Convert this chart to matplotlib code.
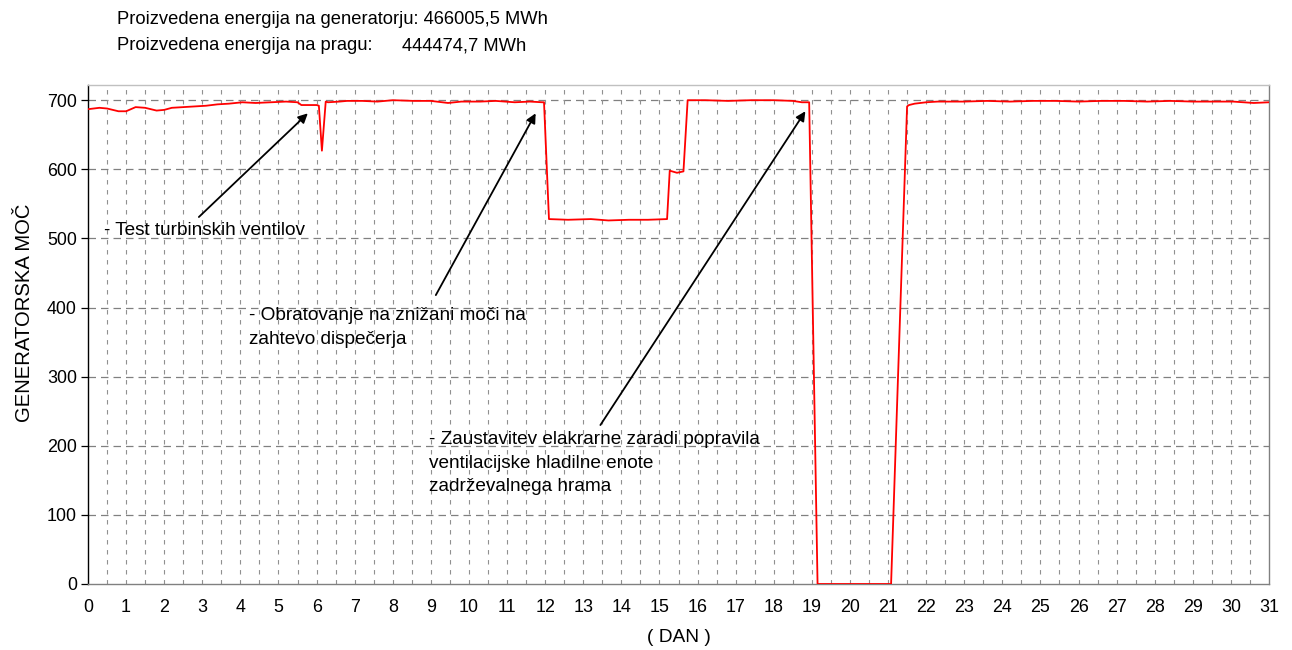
import matplotlib
matplotlib.use("Agg")
import matplotlib.pyplot as plt

plt.rcParams['font.family'] = ['Liberation Sans', 'DejaVu Sans']

# generator power (MW) over the month
dan = [0.0, 0.3, 0.5, 0.8, 1.0, 1.25, 1.5, 1.8, 2.0, 2.2, 2.5, 2.8, 3.1, 3.4, 3.7, 4.05,
       4.4, 4.8, 5.2, 5.5, 5.6, 6.0, 6.06, 6.14, 6.24, 6.3, 6.6, 6.8, 7.2, 7.6, 8.0,
       8.55, 9.0, 9.45, 9.8, 10.3, 10.7, 11.2, 11.6, 11.93, 11.97, 12.1, 12.6,
       13.2, 13.66, 14.2, 14.7, 15.2, 15.27, 15.46, 15.63, 15.74, 16.2, 16.8, 17.4,
       18.0, 18.5, 18.74, 18.93, 19.15, 20.0, 21.08, 21.5, 21.55, 21.7, 22.0, 22.3,
       23.0, 23.6, 24.2, 24.8, 25.4, 26.0, 26.6, 27.2, 27.8, 28.4, 29.0, 29.6,
       30.06, 30.6, 31.0]
moc = [687, 689, 688, 684, 684, 690, 689, 685, 686, 689, 690, 691, 692, 694, 695, 697,
       696, 697, 698, 697, 693, 693, 692, 627, 698, 697, 698, 699, 699, 698, 700,
       699, 699, 696, 698, 698, 699, 697, 698, 697, 697, 528, 527,
       528, 526, 527, 527, 528, 598, 595, 597, 700, 700, 699, 700,
       700, 699, 697, 697, 0, 0, 0, 691, 693, 695, 697, 698,
       698, 699, 698, 699, 699, 698, 699, 699, 698, 699, 698, 698,
       698, 696, 697]

naslov1 = "Proizvedena energija na generatorju: 466005,5 MWh"
naslov2 = "Proizvedena energija na pragu:"
vrednost2 = "444474,7 MWh"

fig = plt.figure(figsize=(12.92, 6.5), dpi=100)
ax = fig.add_axes([88/1292, 1-584/650, (1269-88)/1292, (584-85)/650])

ax.plot(dan, moc, color='#ff0000', lw=1.3, zorder=3)

ax.set_xlim(0, 31)
ax.set_ylim(0, 722)
ax.set_xticks(range(0, 32))
ax.set_yticks(range(0, 701, 100))

# grid
for y in range(100, 701, 100):
    ax.axhline(y, color='#808080', lw=0.9, dashes=(6, 4), zorder=1)
for x in [i * 0.5 for i in range(1, 62)]:
    ax.axvline(x, color='#909090', lw=0.8, dashes=(4, 5), zorder=1)

ax.tick_params(axis='x', which='both', length=0, labelsize=12.9, pad=11)
ax.tick_params(axis='y', length=5, width=0.9, labelsize=12.9, direction='out', pad=3)
ax.spines['left'].set_color('black')
ax.spines['bottom'].set_color('#808080')
ax.spines['right'].set_color('#808080')
ax.spines['top'].set_color('#c0c0c0')
for s in ax.spines.values():
    s.set_linewidth(1.0)

ax.set_ylabel("GENERATORSKA MOČ", fontsize=14.6)
ax.yaxis.set_label_coords(-0.046, 0.543)
ax.set_xlabel("( DAN )", fontsize=13.8, labelpad=9)

fig.text(117/1292, 1-20/650, naslov1, fontsize=13.2, va='center')
fig.text(117/1292, 1-46/650, naslov2, fontsize=13.2, va='center')
fig.text(402/1292, 1-46/650, vrednost2, fontsize=13.2, va='center')

arr = dict(arrowstyle='-|>', color='black', lw=1.3, mutation_scale=14, shrinkA=0, shrinkB=0)
ax.annotate("", xy=(5.77, 681), xytext=(2.91, 531), arrowprops=arr)
ax.annotate("", xy=(11.75, 681), xytext=(9.13, 418), arrowprops=arr)
ax.annotate("", xy=(18.83, 684), xytext=(13.45, 230), arrowprops=arr)

ax.text(0.42, 511, "- Test turbinskih ventilov", fontsize=13.7, va='center')
ax.text(4.22, 371, "- Obratovanje na znižani moči na\nzahtevo dispečerja", fontsize=13.7,
        va='center', linespacing=1.5)
ax.text(8.94, 175, "- Zaustavitev elakrarne zaradi popravila\nventilacijske hladilne enote\nzadrževalnega hrama",
        fontsize=13.7, va='center', linespacing=1.5)

fig.savefig("out.png", dpi=100)
